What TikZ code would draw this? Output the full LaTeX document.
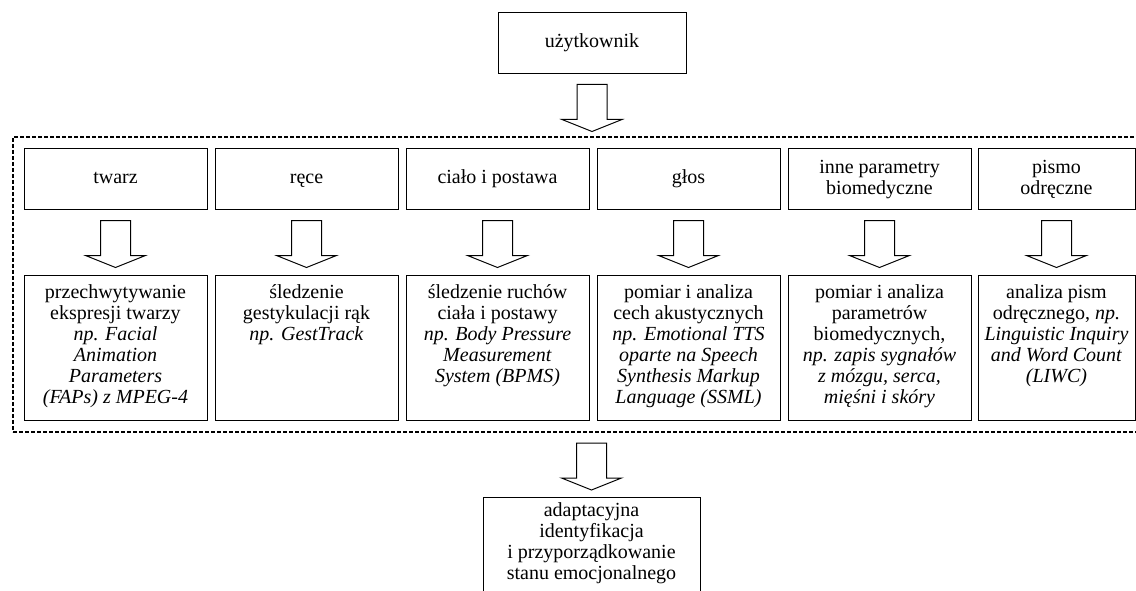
\documentclass[tikz,border=0pt]{standalone}
\usepackage{fontspec}
\setmainfont{Liberation Serif}
\tikzset{
    every node/.style={rectangle, draw, line width=1pt, inner sep=0pt, align=center,
      font=\fontsize{20}{21}\selectfont}
}
\tikzset{box/.style={minimum width=183pt, minimum height=61pt}}
\tikzset{lowbox/.style={minimum width=183pt, minimum height=145pt}}
\tikzset{txt/.style={draw=none, anchor=north, inner ysep=10pt}}
\tikzset{ramka/.style={dash pattern=on 4pt off 2pt, line width=2pt,
    minimum width=1157pt, minimum height=295pt}}
\newcommand{\blockarrow}[1]{%
  \draw[line width=1pt] (#1.south) ++(-15,10) -- ++(0,35) -- ++(-15,0)
    -- ++(30,12) -- ++(30,-12) -- ++(-15,0) -- ++(0,-35) -- cycle;}

\begin{document}
\begin{tikzpicture}[x=1pt, y=-1pt]
  \useasboundingbox (0,0) rectangle (1136,591);
  \clip (0,0) rectangle (1136,591);

  \node (u) at (592, 43.5) [minimum width=188pt, minimum height=61pt] {\strut użytkownik};

  \node[ramka] (ramka) at (591.5, 284.5) {};

  \node[box] (t1) at (115.5, 179.5) {\strut twarz};
  \node[box] (t2) at (306.5, 179.5) {\strut ręce};
  \node[box] (t3) at (497.5, 179.5) {\strut ciało i postawa};
  \node[box] (t4) at (688.5, 179.5) {\strut głos};
  \node[box] (t5) at (879.5, 179.5) {inne parametry\\biomedyczne};
  \node[box, minimum width=157pt] (t6) at (1056.5, 179.5) {pismo\\odręczne};

  \node[lowbox] (m1) at (115.5, 347.5) {};
  \node[lowbox] (m2) at (306.5, 347.5) {};
  \node[lowbox] (m3) at (497.5, 347.5) {};
  \node[lowbox] (m4) at (688.5, 347.5) {};
  \node[lowbox] (m5) at (879.5, 347.5) {};
  \node[lowbox, minimum width=157pt] (m6) at (1056.5, 347.5) {};

  \node[txt] (m1t) at (m1.north) {przechwytywanie\\ekspresji twarzy\\\textit{np. Facial}\\
    \textit{Animation}\\\textit{Parameters}\\\textit{(FAPs) z MPEG-4}};
  \node[txt] (m2t) at (m2.north) {śledzenie\\gestykulacji rąk\\\textit{np. GestTrack}};
  \node[txt] (m3t) at (m3.north) {śledzenie ruchów\\ciała i postawy\\\textit{np. Body Pressure}\\
    \textit{Measurement}\\\textit{System (BPMS)}};
  \node[txt] (m4t) at (m4.north) {pomiar i analiza\\cech akustycznych\\\textit{np. Emotional TTS}\\
    \textit{oparte na Speech}\\\textit{Synthesis Markup}\\\textit{Language (SSML)}};
  \node[txt] (m5t) at (m5.north) {pomiar i analiza\\parametrów\\biomedycznych,\\
    \textit{np. zapis sygnałów}\\\textit{z mózgu, serca,}\\\textit{mięśni i skóry}};
  \node[txt] (m6t) at (m6.north) {analiza pism\\odręcznego, \textit{np.}\\\textit{Linguistic Inquiry}\\
    \textit{and Word Count}\\\textit{(LIWC)}};

  \node (e) at (591.5, 572) [minimum width=217pt, minimum height=150pt] {};
  \node[txt, inner ysep=6pt] (et) at (e.north) {adaptacyjna\\identyfikacja\\i przyporządkowanie\\stanu emocjonalnego};

  \blockarrow{u}
  \blockarrow{t1} \blockarrow{t2} \blockarrow{t3}
  \blockarrow{t4} \blockarrow{t5} \blockarrow{t6}
  \blockarrow{ramka}
\end{tikzpicture}
\end{document}
